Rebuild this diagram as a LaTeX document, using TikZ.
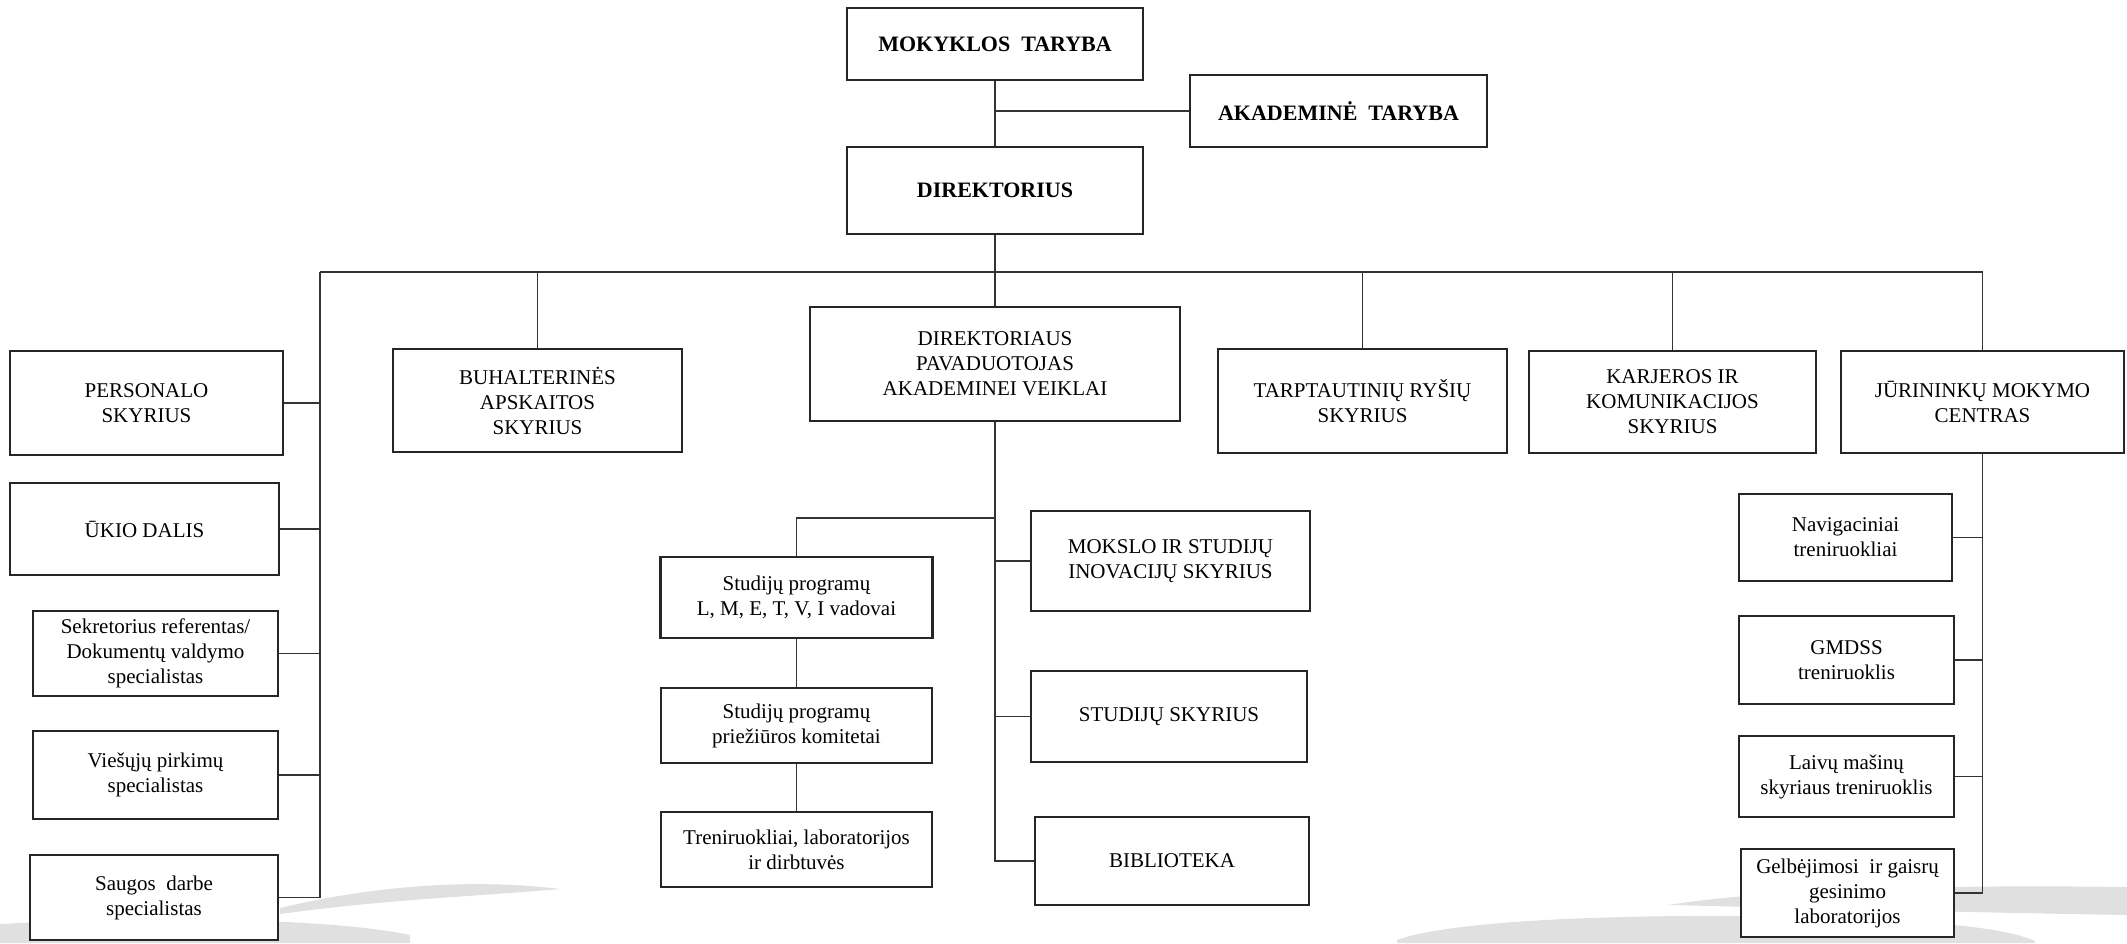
\documentclass[tikz,border=0pt]{standalone}
\usepackage{fontspec}
\setmainfont{Liberation Serif}
\tikzset{
  box/.style={draw=black!85, line width=2.2pt, fill=white, inner sep=2pt, align=center,
    font=\fontsize{21}{25}\selectfont},
  boldbox/.style={box, font=\fontsize{22}{26}\selectfont\bfseries},
  conn/.style={draw=black!80, line width=1.8pt},
  swoosh/.style={fill=black!12, draw=none}
}
\begin{document}
\begin{tikzpicture}[x=1pt,y=-1pt]
\useasboundingbox[fill=white] (0,0) rectangle (2127,943);
% background swooshes
\fill[swoosh] (280,908) .. controls (380,884) and (480,879) .. (560,889) .. controls (480,896) and (380,900) .. (280,914) -- cycle;
\fill[swoosh] (0,924) .. controls (150,916) and (330,918) .. (410,935) -- (410,943) -- (0,943) -- cycle;
\fill[swoosh] (1668,905) .. controls (1750,892) and (1900,884) .. (2127,887) -- (2127,915) .. controls (1950,912) and (1800,908) .. (1668,905) -- cycle;
\fill[swoosh] (1397,940) .. controls (1450,921) and (1600,915) .. (1750,916) .. controls (1900,918) and (2000,925) .. (2035,941) -- (2035,943) -- (1397,943) -- cycle;

% top
\node[boldbox, minimum width=296pt, minimum height=72pt] (mt) at (995,44) {MOKYKLOS\ \ TARYBA};
\node[boldbox, minimum width=297pt, minimum height=72pt] (at) at (1338.5,111) {AKADEMINĖ\ \ TARYBA};
\node[boldbox, minimum width=296pt, minimum height=87pt] (dir) at (995,190.5) {DIREKTORIUS};

% second level
\node[box, minimum width=273pt, minimum height=104pt] (pers) at (146.5,403) {PERSONALO\\SKYRIUS};
\node[box, minimum width=289pt, minimum height=103pt] (buh) at (537.5,400.5) {BUHALTERINĖS\\APSKAITOS\\SKYRIUS};
\node[box, minimum width=370pt, minimum height=114pt] (dpav) at (995,364) {DIREKTORIAUS\\PAVADUOTOJAS\\AKADEMINEI VEIKLAI};
\node[box, minimum width=289pt, minimum height=104pt] (tarp) at (1362.5,401) {TARPTAUTINIŲ RYŠIŲ\\SKYRIUS};
\node[box, minimum width=287pt, minimum height=102pt] (karj) at (1672.5,402) {KARJEROS IR\\KOMUNIKACIJOS\\SKYRIUS};
\node[box, minimum width=283pt, minimum height=102pt] (jur) at (1982.5,402) {JŪRININKŲ MOKYMO\\CENTRAS};

% left column
\node[box, minimum width=269pt, minimum height=92pt] (ukio) at (144.5,529) {ŪKIO DALIS};
\node[box, minimum width=245pt, minimum height=85pt] (sekr) at (155.5,653.5) {Sekretorius referentas/\\Dokumentų valdymo\\specialistas};
\node[box, minimum width=245pt, minimum height=88pt] (vies) at (155.5,775) {Viešųjų pirkimų\\specialistas};
\node[box, minimum width=248pt, minimum height=85pt] (saug) at (154,897.5) {Saugos\ \ darbe\\specialistas};

% middle column
\node[box, minimum width=272pt, minimum height=81pt] (sp1) at (796.5,597.5) {Studijų programų\\L, M, E, T, V, I vadovai};
\node[box, minimum width=271pt, minimum height=75pt] (sp2) at (796.5,725.5) {Studijų programų\\priežiūros komitetai};
\node[box, minimum width=271pt, minimum height=75pt] (tren) at (796.5,849.5) {Treniruokliai, laboratorijos\\ir dirbtuvės};
\node[box, minimum width=279pt, minimum height=100pt] (moks) at (1170.5,561) {MOKSLO IR STUDIJŲ\\INOVACIJŲ SKYRIUS};
\node[box, minimum width=276pt, minimum height=91pt] (stud) at (1169,716.5) {STUDIJŲ SKYRIUS};
\node[box, minimum width=274pt, minimum height=88pt] (bibl) at (1172,861) {BIBLIOTEKA};

% right column
\node[box, minimum width=213pt, minimum height=87pt] (nav) at (1845.5,537.5) {Navigaciniai\\treniruokliai};
\node[box, minimum width=215pt, minimum height=88pt] (gmd) at (1846.5,660) {GMDSS\\treniruoklis};
\node[box, minimum width=215pt, minimum height=81pt] (laiv) at (1846.5,776.5) {Laivų mašinų\\skyriaus treniruoklis};
\node[box, minimum width=213pt, minimum height=88pt] (gelb) at (1847.5,893) {Gelbėjimosi\ \ ir gaisrų\\gesinimo\\laboratorijos};

% connectors
\coordinate (bus) at (995,272);
\coordinate (busL) at (320,272);
\coordinate (br) at (995,518);
\draw[conn] (mt.south) -- (dir.north);
\draw[conn] (mt.south |- at.west) -- (at.west);
\draw[conn] (dir.south) -- (bus);
\draw[conn] (busL) -- (jur.north |- bus) -- (jur.north);
\draw[conn] (bus) -- (dpav.north);
\draw[conn] (buh.north |- bus) -- (buh.north);
\draw[conn] (tarp.north |- bus) -- (tarp.north);
\draw[conn] (karj.north |- bus) -- (karj.north);
% left
\draw[conn] (busL) -- (busL |- saug.east) -- (saug.east);
\draw[conn] (pers.east) -- (busL |- pers.east);
\draw[conn] (ukio.east) -- (busL |- ukio.east);
\draw[conn] (sekr.east) -- (busL |- sekr.east);
\draw[conn] (vies.east) -- (busL |- vies.east);
% middle
\draw[conn] (dpav.south) -- (dpav.south |- bibl.west) -- (bibl.west);
\draw[conn] (moks.west) -- (dpav.south |- moks.west);
\draw[conn] (stud.west) -- (dpav.south |- stud.west);
\draw[conn] (br) -- (sp1.north |- br) -- (sp1.north);
\draw[conn] (sp1.south) -- (sp2.north);
\draw[conn] (sp2.south) -- (tren.north);
% right
\draw[conn] (jur.south) -- (jur.south |- gelb.east) -- (gelb.east);
\draw[conn] (nav.east) -- (jur.south |- nav.east);
\draw[conn] (gmd.east) -- (jur.south |- gmd.east);
\draw[conn] (laiv.east) -- (jur.south |- laiv.east);
\end{tikzpicture}
\end{document}
